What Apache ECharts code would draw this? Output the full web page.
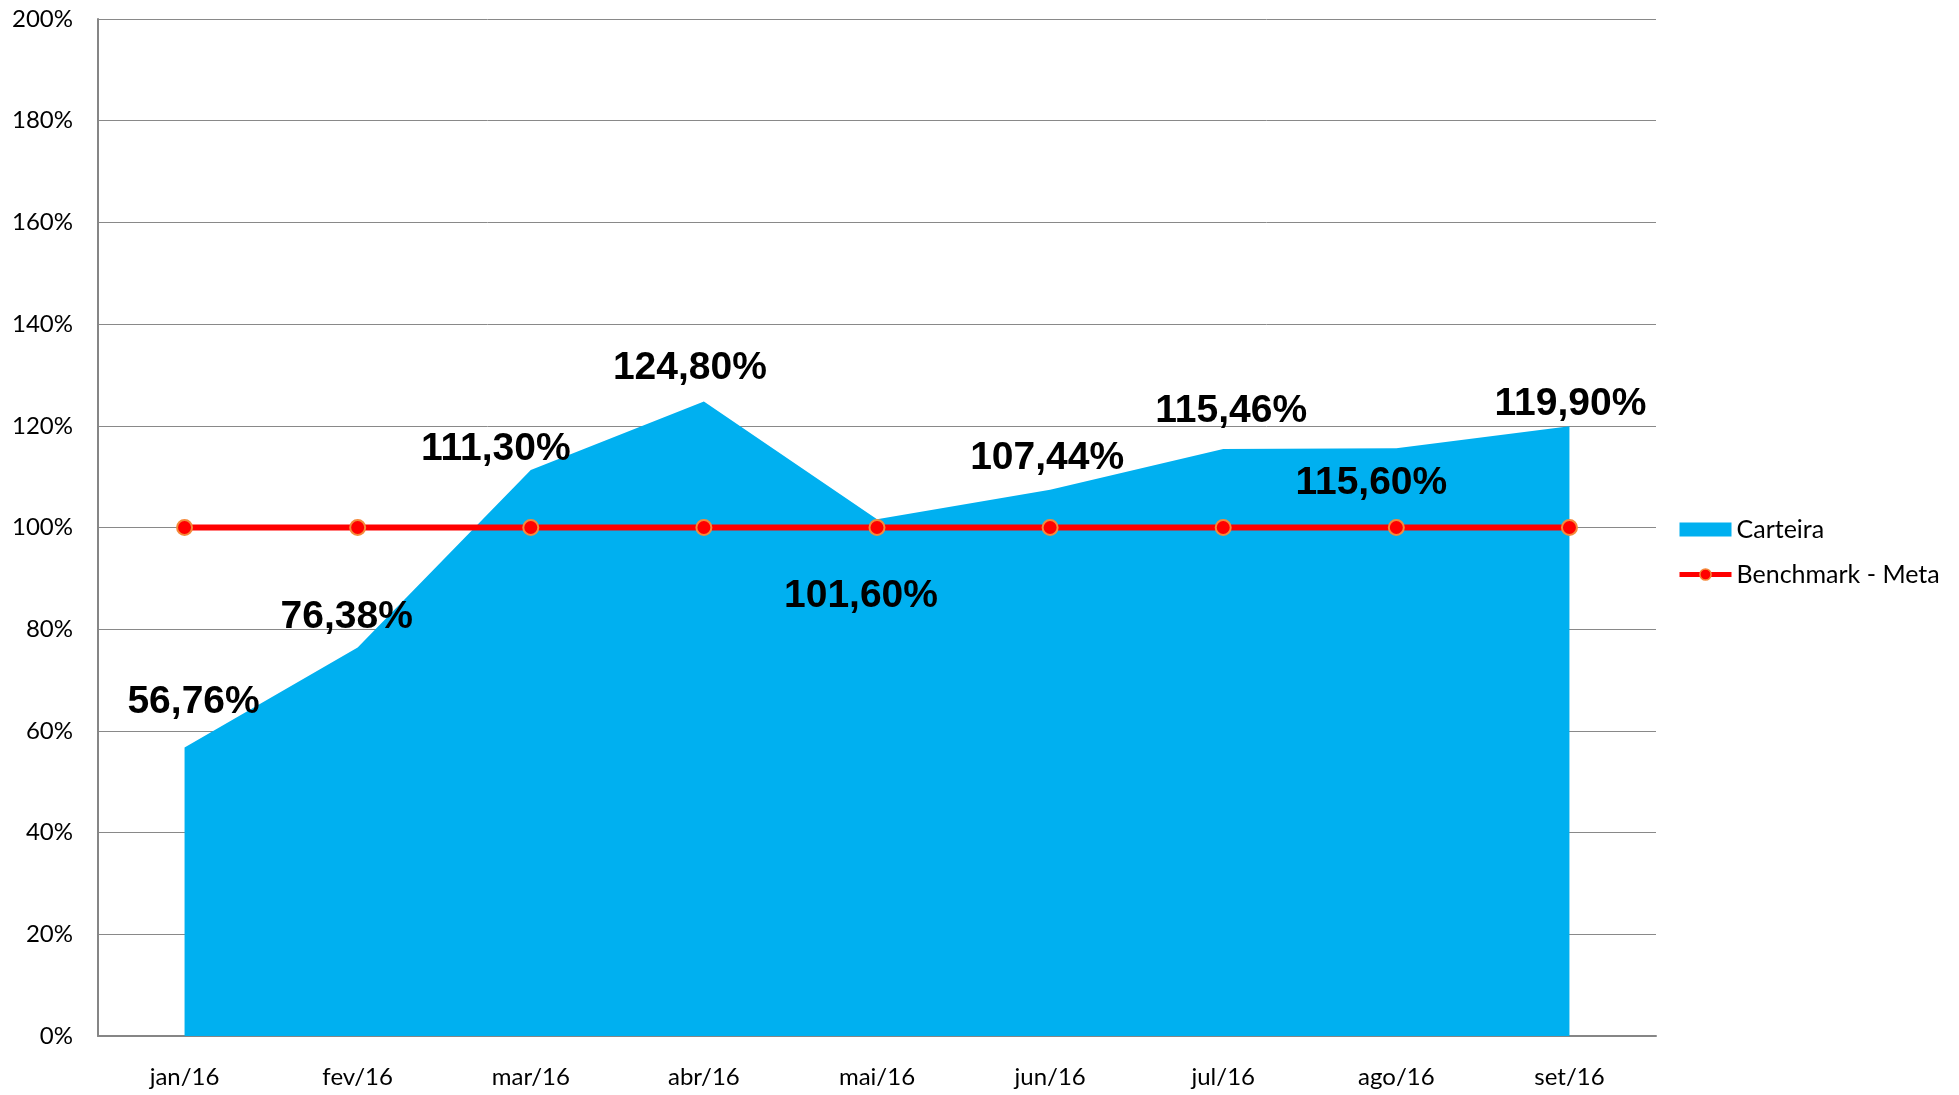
<!DOCTYPE html>
<html>
<head>
<meta charset="utf-8">
<title>Carteira x Benchmark</title>
<script src="https://cdn.jsdelivr.net/npm/echarts@6/dist/echarts.min.js"></script>
<style>
  html, body { margin: 0; padding: 0; background: #fff; }
  #chart { width: 1959px; height: 1095px; }
</style>
</head>
<body>
<div id="chart"></div>
<script>
// dados
var meses = ['jan/16', 'fev/16', 'mar/16', 'abr/16', 'mai/16', 'jun/16', 'jul/16', 'ago/16', 'set/16'];
var carteira = [56.76, 76.38, 111.30, 124.80, 101.60, 107.44, 115.46, 115.60, 119.90];
var benchmark = [100, 100, 100, 100, 100, 100, 100, 100, 100];

// deslocamento dos rótulos (px) em relação ao ponto
var labelOffsets = [[9, -45], [-11, -30], [-35, -21], [-14, -33], [-16, 77], [-3, -31], [8, -38], [-25, 35], [1, -22]];

var chart = echarts.init(document.getElementById('chart'));

function fmt(v) {
  return v.toFixed(2).replace('.', ',') + '%';
}

var carteiraData = carteira.map(function (v, i) {
  return {
    value: v,
    label: { offset: labelOffsets[i] }
  };
});

chart.setOption({
  animation: false,
  textStyle: { fontFamily: 'Lato' },
  grid: {
    left: 98,
    right: 303,
    top: 19,
    bottom: 59,
    containLabel: false
  },
  legend: {
    orient: 'vertical',
    left: 1672,
    top: 512,
    itemWidth: 52,
    itemHeight: 14,
    itemGap: 20,
    textStyle: { fontFamily: 'Lato', fontSize: 25, color: '#000' },
    data: [
      { name: 'Carteira', icon: 'rect' },
      {
        name: 'Benchmark - Meta',
        lineStyle: { width: 5, color: '#FF0000' },
        itemStyle: { color: '#FF0000', borderColor: '#F58A3A', borderWidth: 1.5 }
      }
    ]
  },
  xAxis: {
    type: 'category',
    data: meses,
    boundaryGap: true,
    axisLine: { lineStyle: { color: '#868686', width: 2 } },
    axisTick: { show: false },
    axisLabel: { fontFamily: 'Lato', fontSize: 24, color: '#000', margin: 29 }
  },
  yAxis: {
    type: 'value',
    min: 0,
    max: 200,
    interval: 20,
    axisLine: { show: true, lineStyle: { color: '#868686', width: 2 } },
    axisTick: { show: false },
    splitLine: { lineStyle: { color: '#898989', width: 1 } },
    axisLabel: {
      fontFamily: 'Lato', fontSize: 24, color: '#000', margin: 25,
      formatter: '{value}%'
    }
  },
  series: [
    {
      name: 'Carteira',
      type: 'line',
      data: carteiraData,
      symbol: 'circle',
      symbolSize: 0.1,
      showSymbol: true,
      itemStyle: { color: '#00B0F0' },
      lineStyle: { width: 0 },
      areaStyle: { color: '#00B0F0', opacity: 1 },
      z: 1,
      label: {
        show: true,
        position: 'inside',
        fontFamily: 'Liberation Sans',
        fontWeight: 'bold',
        fontSize: 39,
        color: '#000',
        formatter: function (p) { return fmt(p.value); }
      }
    },
    {
      name: 'Benchmark - Meta',
      type: 'line',
      data: benchmark,
      symbol: 'circle',
      symbolSize: 15,
      z: 3,
      lineStyle: { color: '#FF0000', width: 6 },
      itemStyle: { color: '#FF0000', borderColor: '#F58A3A', borderWidth: 2 }
    }
  ]
});
</script>
</body>
</html>
